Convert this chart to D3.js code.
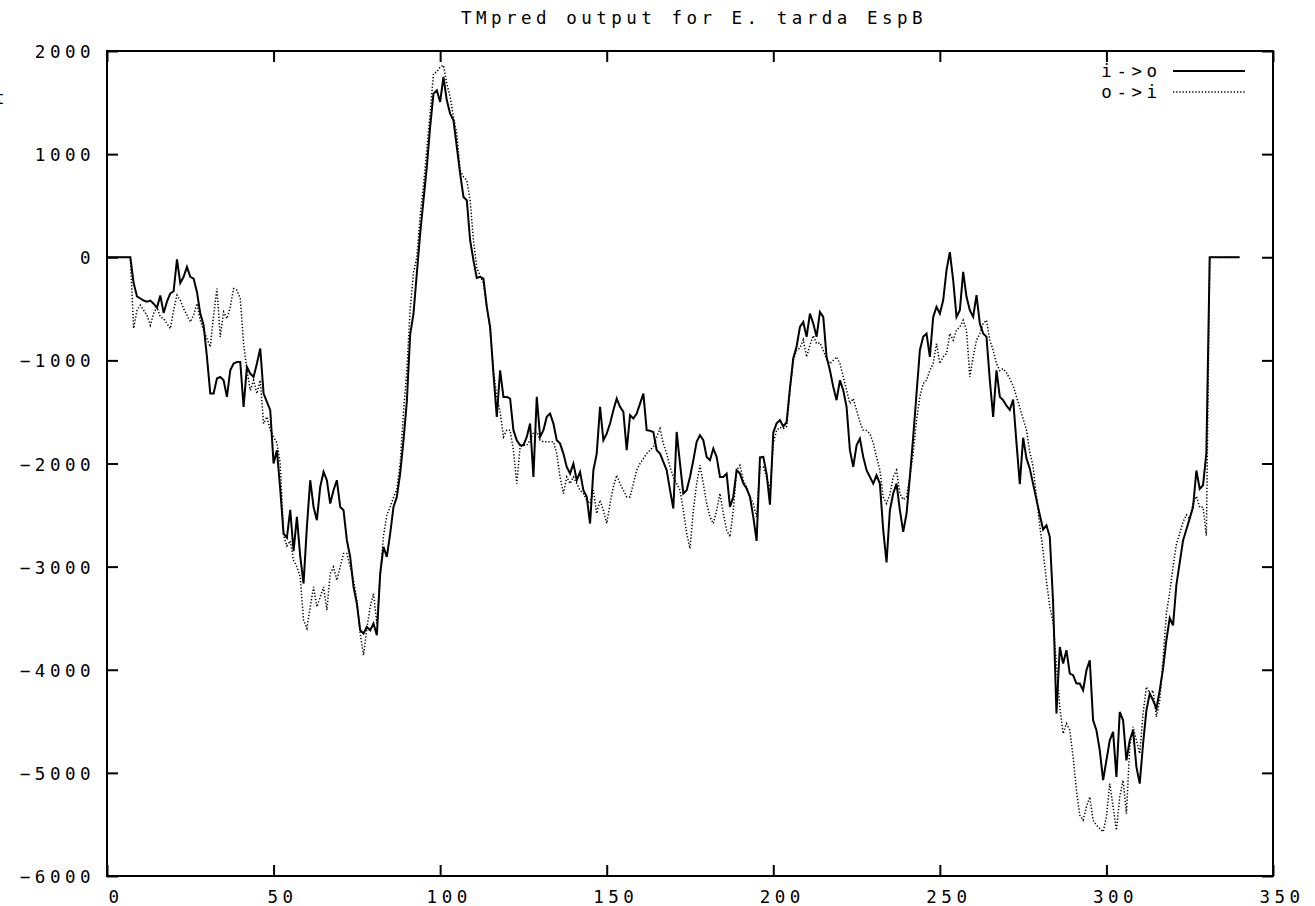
<!DOCTYPE html>
<head>
  <meta charset="utf-8">
  <style>
    body { margin: 0; background: #fff; }
    text {
        font-family: "DejaVu Sans Mono", "Liberation Mono", monospace;
        font-size: 17.5px;
        letter-spacing: 4.5px;
        fill: #000;
    }
  </style>
</head>

<body>
  <script src="https://cdn.jsdelivr.net/npm/d3@7"></script>

  <script>
    // values, one per residue (index = residue position)
    var inToOut = [
      0,0,0,0,0,0,0,0,-250,-380,
      -400,-420,-430,-420,-450,-490,-370,-540,-430,-350,
      -330,-20,-250,-190,-94,-190,-207,-336,-546,-659,
      -966,-1322,-1322,-1176,-1160,-1193,-1354,-1096,-1031,-1015,
      -1015,-1451,-1063,-1128,-1160,-1031,-885,-1322,-1402,-1483,
      -2000,-1871,-2250,-2680,-2720,-2450,-2850,-2518,-2900,-3164,
      -2615,-2162,-2421,-2550,-2227,-2082,-2162,-2389,-2259,-2162,
      -2421,-2453,-2744,-2905,-3197,-3358,-3617,-3649,-3585,-3617,
      -3552,-3665,-3067,-2809,-2905,-2680,-2421,-2324,-2098,-1775,
      -1400,-750,-546,-158,229,553,876,1264,1587,1619,
      1506,1748,1522,1393,1328,1070,811,585,553,165,
      -30,-200,-190,-207,-481,-675,-1128,-1548,-1096,-1354,
      -1354,-1370,-1677,-1774,-1823,-1823,-1742,-1613,-2130,-1354,
      -1742,-1677,-1548,-1516,-1613,-1774,-1807,-1904,-2033,-2098,
      -2001,-2162,-2082,-2259,-2324,-2582,-2065,-1904,-1451,-1774,
      -1710,-1613,-1483,-1370,-1451,-1500,-1871,-1532,-1564,-1516,
      -1420,-1322,-1677,-1683,-1694,-1871,-1904,-1984,-2065,-2259,
      -2437,-1694,-2001,-2291,-2259,-2130,-1968,-1790,-1726,-1774,
      -1936,-1968,-1855,-1936,-2130,-2130,-2098,-2421,-2324,-2065,
      -2098,-2195,-2243,-2324,-2518,-2750,-1940,-1936,-2100,-2400,
      -1700,-1610,-1580,-1640,-1600,-1270,-980,-865,-676,-627,
      -772,-546,-643,-772,-530,-578,-966,-1096,-1257,-1386,
      -1193,-1290,-1451,-1871,-2033,-1823,-1758,-1936,-2065,-2130,
      -2195,-2114,-2195,-2647,-2960,-2453,-2291,-2195,-2453,-2663,
      -2485,-2130,-1742,-1322,-901,-772,-740,-966,-578,-481,
      -546,-417,-126,50,-223,-578,-514,-142,-384,-514,
      -578,-368,-643,-740,-772,-1193,-1548,-1096,-1354,-1386,
      -1440,-1480,-1380,-1800,-2200,-1750,-1950,-2050,-2200,-2350,
      -2500,-2640,-2600,-2711,-3350,-4425,-3779,-3940,-3811,-4037,
      -4053,-4134,-4134,-4199,-4005,-3908,-4490,-4587,-4781,-5071,
      -4878,-4684,-4603,-5039,-4409,-4490,-4878,-4684,-4587,-4942,
      -5104,-4716,-4393,-4231,-4296,-4377,-4199,-3989,-3714,-3498,
      -3570,-3176,-2962,-2747,-2640,-2532,-2425,-2068,-2246,-2211,
      -1900,0,0,0,0,0,0,0,0,0,
      0
    ]

    var outToIn = [
      0,0,0,0,0,0,0,0,-690,-514,
      -465,-514,-562,-659,-546,-482,-578,-595,-643,-692,
      -514,-368,-417,-498,-562,-627,-562,-449,-611,-708,
      -789,-869,-562,-304,-772,-530,-595,-482,-304,-320,
      -400,-837,-1096,-1290,-1193,-1322,-1193,-1613,-1548,-1677,
      -1742,-1800,-2000,-2700,-2800,-2750,-2938,-3003,-3100,-3520,
      -3600,-3390,-3197,-3390,-3294,-3197,-3423,-3067,-3003,-3132,
      -3003,-2873,-2873,-3003,-3132,-3326,-3649,-3859,-3600,-3390,
      -3261,-3550,-3100,-2700,-2500,-2420,-2330,-2250,-2000,-1500,
      -1100,-500,-150,0,400,700,1050,1400,1781,1797,
      1845,1862,1684,1555,1361,1199,844,779,747,553,
      165,-100,-180,-250,-480,-700,-1100,-1350,-1500,-1742,
      -1677,-1677,-1871,-2195,-1839,-1823,-1823,-1774,-1700,-1694,
      -1774,-1790,-1790,-1790,-1790,-1904,-2130,-2291,-2130,-2195,
      -2130,-2195,-2259,-2291,-2356,-2388,-2259,-2485,-2356,-2453,
      -2582,-2388,-2227,-2114,-2195,-2259,-2324,-2324,-2195,-2065,
      -2001,-1952,-1904,-1871,-1839,-1742,-1661,-1807,-1904,-2033,
      -2130,-2195,-2259,-2453,-2679,-2825,-2453,-2195,-2017,-2195,
      -2388,-2518,-2582,-2453,-2291,-2485,-2647,-2711,-2453,-2065,
      -2017,-2162,-2227,-2324,-2388,-2518,-2033,-2033,-2130,-2259,
      -1807,-1677,-1650,-1660,-1640,-1300,-1000,-900,-880,-800,
      -966,-853,-760,-837,-830,-901,-990,-1031,-1000,-966,
      -1031,-1160,-1290,-1419,-1370,-1483,-1600,-1677,-1680,-1710,
      -1800,-1936,-2065,-2324,-2388,-2300,-2130,-2065,-2291,-2350,
      -2324,-2130,-1900,-1580,-1354,-1225,-1193,-1096,-1031,-837,
      -1031,-966,-934,-740,-804,-708,-676,-611,-708,-1160,
      -966,-804,-740,-643,-611,-804,-901,-1031,-1100,-1080,
      -1120,-1180,-1245,-1352,-1460,-1567,-1674,-1889,-2032,-2318,
      -2604,-2854,-3140,-3391,-3534,-3950,-4360,-4619,-4522,-4587,
      -4845,-5168,-5411,-5459,-5330,-5233,-5459,-5508,-5540,-5572,
      -5427,-5104,-5330,-5556,-5233,-5071,-5395,-4748,-4554,-4684,
      -4813,-4425,-4166,-4231,-4199,-4457,-4296,-3900,-3450,-3250,
      -3000,-2783,-2676,-2568,-2497,-2532,-2390,-2318,-2425,-2425,
      -2700,0,0,0,0,0,0,0,0,0,
      0
    ]

    var xTicks = [0, 50, 100, 150, 200, 250, 300, 350]
    var yTicks = [-6000, -5000, -4000, -3000, -2000, -1000, 0, 1000, 2000]
    var seriesNames = ["i->o", "o->i"]
    var titleText = "TMpred output for E. tarda EspB"

    // page and plot box
    var w = 1315
    var h = 906
    var plotLeft = 107, plotRight = 1273, plotTop = 51, plotBottom = 876
    var tickLen = 11

    var svg = d3.select("body")
                .append("svg")
                .attr("width", w)
                .attr("height", h);

    var x = d3.scaleLinear()
              .domain([0, 350])
              .range([plotLeft, plotRight]);

    var y = d3.scaleLinear()
              .domain([-6000, 2000])
              .range([plotBottom, plotTop]);

    // axes, gnuplot style: ticks point inwards and are mirrored
    var gx = svg.append("g")
        .attr("transform", "translate(0," + plotBottom + ")")
        .call(d3.axisBottom(x).tickValues(xTicks).tickSize(-tickLen).tickFormat(d3.format("d")));
    gx.selectAll("text")
        .attr("x", 8.5)
        .attr("y", 27)
        .attr("dy", 0);

    var gy = svg.append("g")
        .attr("transform", "translate(" + plotLeft + ",0)")
        .call(d3.axisLeft(y).tickValues(yTicks).tickSize(-tickLen).tickPadding(12).tickFormat(d3.format("d")));
    gy.selectAll("text")
        .attr("dy", 6.5);

    svg.append("g")
        .attr("transform", "translate(0," + plotTop + ")")
        .call(d3.axisTop(x).tickValues(xTicks).tickSize(-tickLen).tickFormat(""));

    svg.append("g")
        .attr("transform", "translate(" + plotRight + ",0)")
        .call(d3.axisRight(y).tickValues(yTicks).tickSize(-tickLen).tickFormat(""));

    svg.selectAll(".domain").remove();
    svg.selectAll(".tick line")
        .attr("stroke", "#000")
        .attr("stroke-width", 2);
    svg.selectAll(".tick text")
        .style("font-family", "'DejaVu Sans Mono', monospace")
        .style("font-size", "17.5px")
        .style("letter-spacing", "4.5px")
        .attr("fill", "#000");

    // frame
    svg.append("rect")
        .attr("x", plotLeft)
        .attr("y", plotTop)
        .attr("width", plotRight - plotLeft)
        .attr("height", plotBottom - plotTop)
        .attr("fill", "none")
        .attr("stroke", "#000")
        .attr("stroke-width", 2);

    var line = d3.line()
        .x(function(d, i) { return x(i); })
        .y(function(d) { return y(d); });

    svg.append("path")
        .datum(inToOut)
        .attr("d", line)
        .attr("fill", "none")
        .attr("stroke", "#000")
        .attr("stroke-width", 2)
        .attr("stroke-linejoin", "miter");

    svg.append("path")
        .datum(outToIn)
        .attr("d", line)
        .attr("fill", "none")
        .attr("stroke", "#000")
        .attr("stroke-width", 1.5)
        .attr("stroke-dasharray", "1.3,1.9");

    // title
    svg.append("text")
        .attr("x", 694)
        .attr("y", 24)
        .attr("text-anchor", "middle")
        .text(titleText);

    // what is left of the y label, cut by the left edge
    svg.append("text")
        .attr("x", -6)
        .attr("y", 104)
        .text("t");

    // legend
    var legend = svg.append("g");
    legend.append("text")
        .attr("x", 1161.5)
        .attr("y", 77)
        .attr("text-anchor", "end")
        .text(seriesNames[0]);
    legend.append("line")
        .attr("x1", 1173).attr("x2", 1245)
        .attr("y1", 71).attr("y2", 71)
        .attr("stroke", "#000")
        .attr("stroke-width", 2);
    legend.append("text")
        .attr("x", 1161.5)
        .attr("y", 98)
        .attr("text-anchor", "end")
        .text(seriesNames[1]);
    legend.append("line")
        .attr("x1", 1173).attr("x2", 1245)
        .attr("y1", 92).attr("y2", 92)
        .attr("stroke", "#000")
        .attr("stroke-width", 1.5)
        .attr("stroke-dasharray", "1.3,1.9");
  </script>
</body>
